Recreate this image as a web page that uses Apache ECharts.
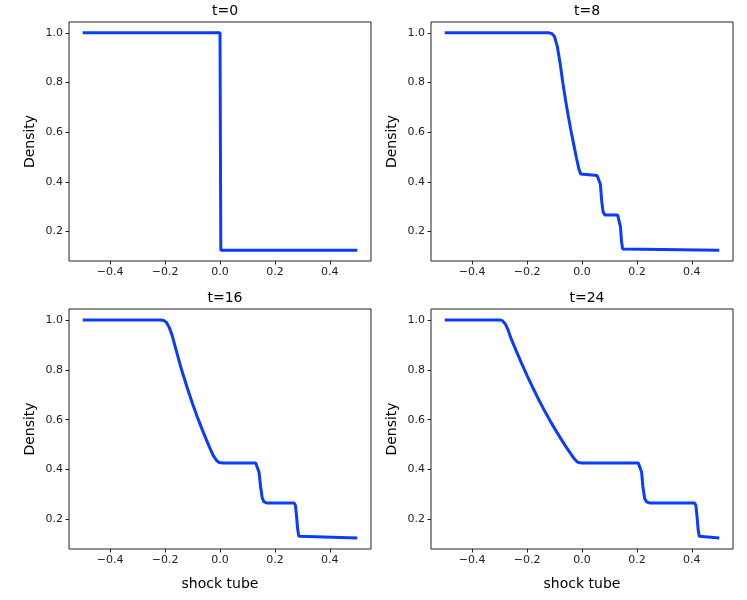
<!DOCTYPE html>
<html>
<head>
<meta charset="utf-8">
<script src="https://cdn.jsdelivr.net/npm/echarts@6/dist/echarts.min.js"></script>
<style>
html, body { margin: 0; padding: 0; background: #fff; }
#chart { width: 747px; height: 600px; }
</style>
</head>
<body>
<div id="chart"></div>
<script>
// panel titles
const titles = ['t=0', 't=8', 't=16', 't=24'];
const xTicks = [-0.4, -0.2, 0.0, 0.2, 0.4];
const yTicks = [0.2, 0.4, 0.6, 0.8, 1.0];

// t=0
const x0 = [-0.5, 0.0, 0.003, 0.5];
const y0 = [1.0, 1.0, 0.125, 0.125];

// t=8
const x8 = [-0.5, -0.12, -0.11, -0.10, -0.09, -0.08, -0.07, -0.06, -0.05, -0.04, -0.03, -0.02, -0.012, -0.005, 0.0,
  0.055, 0.062, 0.067, 0.072, 0.077, 0.083, 0.13, 0.136, 0.14, 0.144, 0.148, 0.153, 0.5];
const y8 = [1.0, 1.0, 0.997, 0.985, 0.945, 0.88, 0.80, 0.73, 0.665, 0.605, 0.55, 0.495, 0.455, 0.432, 0.427,
  0.426, 0.42, 0.39, 0.32, 0.278, 0.267, 0.266, 0.258, 0.22, 0.16, 0.13, 0.125, 0.125];

// t=16
const x16 = [-0.5, -0.215, -0.205, -0.195, -0.185, -0.175, -0.16, -0.14, -0.12, -0.10, -0.08, -0.06, -0.04, -0.025, -0.012, -0.003, 0.01,
  0.13, 0.137, 0.142, 0.148, 0.154, 0.16, 0.17, 0.27, 0.275, 0.279, 0.283, 0.287, 0.293, 0.5];
const y16 = [1.0, 1.0, 0.998, 0.99, 0.97, 0.94, 0.88, 0.80, 0.73, 0.664, 0.603, 0.547, 0.494, 0.457, 0.436, 0.428, 0.426,
  0.426, 0.42, 0.39, 0.33, 0.285, 0.27, 0.266, 0.266, 0.255, 0.21, 0.16, 0.132, 0.125, 0.125];

// t=24
const x24 = [-0.5, -0.3, -0.29, -0.28, -0.27, -0.26, -0.24, -0.22, -0.20, -0.18, -0.16, -0.14, -0.12, -0.10, -0.08, -0.06, -0.04, -0.028, -0.018, -0.008, 0.0,
  0.205, 0.212, 0.217, 0.222, 0.228, 0.235, 0.245, 0.41, 0.415, 0.419, 0.423, 0.427, 0.433, 0.5];
const y24 = [1.0, 1.0, 0.997, 0.985, 0.962, 0.93, 0.877, 0.826, 0.777, 0.730, 0.685, 0.643, 0.603, 0.565, 0.529, 0.494, 0.462, 0.443, 0.431, 0.427, 0.426,
  0.426, 0.42, 0.39, 0.33, 0.285, 0.27, 0.266, 0.266, 0.255, 0.21, 0.16, 0.132, 0.125, 0.125];

const panelsX = [x0, x8, x16, x24];
const panelsY = [y0, y8, y16, y24];

const FONT = 'DejaVu Sans';
const grids = [
  { left: 69, top: 22, width: 302, height: 239 },
  { left: 431, top: 22, width: 302, height: 239 },
  { left: 69, top: 309, width: 302, height: 240 },
  { left: 431, top: 309, width: 302, height: 240 }
];

function fmt(v) {
  return v.toFixed(1).replace('-', '\u2212');
}

const option = {
  animation: false,
  backgroundColor: '#fff',
  title: titles.map((t, i) => ({
    text: t,
    left: grids[i].left + grids[i].width / 2,
    top: grids[i].top - 23,
    textAlign: 'center',
    textStyle: { fontFamily: FONT, fontSize: 14, fontWeight: 'normal', color: '#000' }
  })),
  grid: grids.map(g => Object.assign({ show: true, borderColor: '#222', borderWidth: 1, backgroundColor: '#fff' }, g)),
  xAxis: grids.map((g, i) => ({
    type: 'value',
    gridIndex: i,
    min: -0.55,
    max: 0.55,
    name: i >= 2 ? 'shock tube' : '',
    nameLocation: 'middle',
    nameGap: 28,
    nameTextStyle: { fontFamily: FONT, fontSize: 14, color: '#000' },
    splitLine: { show: false },
    axisLine: { show: false, onZero: false },
    axisTick: { show: true, length: 3.5, lineStyle: { color: '#222', width: 1 }, customValues: xTicks },
    axisLabel: { customValues: xTicks, formatter: fmt, fontFamily: FONT, fontSize: 11, color: '#222', margin: 6 }
  })),
  yAxis: grids.map((g, i) => ({
    type: 'value',
    gridIndex: i,
    min: 0.08125,
    max: 1.04375,
    name: 'Density',
    nameLocation: 'middle',
    nameRotate: 90,
    nameGap: 32,
    nameTextStyle: { fontFamily: FONT, fontSize: 14, color: '#000' },
    splitLine: { show: false },
    axisLine: { show: false, onZero: false },
    axisTick: { show: true, length: 3.5, lineStyle: { color: '#222', width: 1 }, customValues: yTicks },
    axisLabel: { customValues: yTicks, formatter: fmt, fontFamily: FONT, fontSize: 11, color: '#222', margin: 6 }
  })),
  series: panelsX.map((xs, i) => ({
    type: 'line',
    xAxisIndex: i,
    yAxisIndex: i,
    showSymbol: false,
    smooth: false,
    lineStyle: { color: '#0a3cff', width: 3 },
    data: xs.map((x, k) => [x, panelsY[i][k]])
  }))
};

const chart = echarts.init(document.getElementById('chart'));
chart.setOption(option);
</script>
</body>
</html>
